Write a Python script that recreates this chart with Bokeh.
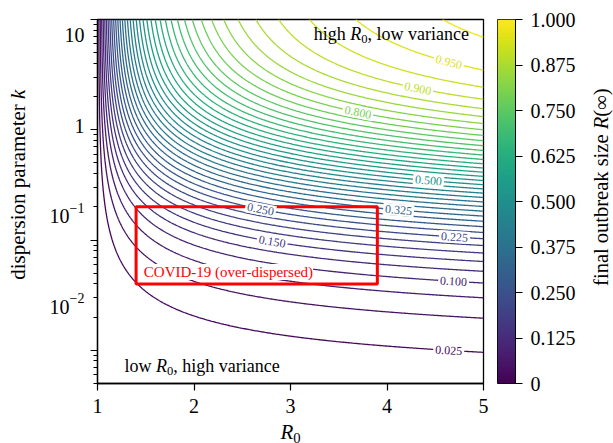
import numpy as np
from bokeh.plotting import figure
from bokeh.layouts import row, column
from bokeh.models import Range1d, FixedTicker, Label, LinearColorMapper, ColumnDataSource
from bokeh.palettes import Viridis256
from bokeh.core.properties import value
from bokeh.embed import file_html
from bokeh.resources import INLINE

# ---------------- data ----------------
R0_limits = [1.0, 5.0]
k_limits = [0.005, 10.0]
contour_levels = [0.025, 0.050, 0.075, 0.100, 0.125, 0.150, 0.175, 0.200, 0.225, 0.250,
                  0.275, 0.300, 0.325, 0.350, 0.375, 0.400, 0.425, 0.450, 0.475, 0.500,
                  0.525, 0.550, 0.575, 0.600, 0.625, 0.650, 0.675, 0.700, 0.725, 0.750,
                  0.775, 0.800, 0.825, 0.850, 0.875, 0.900, 0.925, 0.950, 0.975]
label_levels = [0.025, 0.100, 0.150, 0.225, 0.250, 0.325, 0.500, 0.800, 0.900, 0.950]
label_R0 = [4.64, 4.69, 2.81, 4.70, 2.69, 4.12, 4.43, 3.70, 4.32, 4.64]
covid_R0 = [1.4, 3.9]
covid_k = [0.04, 0.2]
x_ticks = [1, 2, 3, 4, 5]
y_ticks = [0.01, 0.1, 1, 10]
y_tick_base = ["10", "10", "1", "10"]
y_tick_exp = ["\u22122", "\u22121", "", ""]
cbar_ticks = [0, 0.125, 0.25, 0.375, 0.5, 0.625, 0.75, 0.875, 1.0]
cbar_tick_labels = ["0", "0.125", "0.250", "0.375", "0.500", "0.625", "0.750", "0.875", "1.000"]

# final outbreak size z solving 1 - z = (1 + R0 z / k)^(-k) (negative-binomial offspring)
R0_grid = np.linspace(R0_limits[0], R0_limits[1], 321)
k_grid = np.logspace(np.log10(k_limits[0]), np.log10(k_limits[1]), 331)
RR, KK = np.meshgrid(R0_grid, k_grid)
lo = np.full(RR.shape, 1e-12)
hi = np.ones(RR.shape)
for _ in range(60):
    mid = 0.5 * (lo + hi)
    pos = (-np.expm1(-KK * np.log1p(RR * mid / KK)) - mid) > 0
    lo = np.where(pos, mid, lo)
    hi = np.where(pos, hi, mid)
Z = 0.5 * (lo + hi)
Z[RR <= 1.0] = 0.0

FONT = "Liberation Serif"
line_colors = [Viridis256[int(round(L * 255))] for L in contour_levels]

# ---------------- helpers for rich text ----------------
TNR = {' ': 250, '(': 333, ')': 333, ',': 250, '-': 333, '.': 250, '\u221e': 713, '\u2212': 564,
       'a': 444, 'b': 500, 'c': 444, 'd': 500, 'e': 444, 'f': 333, 'g': 500, 'h': 500,
       'i': 278, 'k': 500, 'l': 278, 'm': 778, 'n': 500, 'o': 500, 'p': 500, 'r': 333,
       's': 389, 't': 278, 'u': 500, 'v': 500, 'w': 722, 'z': 444, 'R': 667,
       '0': 500, '1': 500, '2': 500}
TNR_IT = {'R': 611, 'k': 444}


def text_width(s, size, italic):
    tab = TNR_IT if italic else TNR
    return sum(tab.get(ch, TNR.get(ch, 500)) for ch in s) * size / 1000.0


def add_pieces(fig, x, y, pieces, angle=0.0, align="left"):
    """pieces: (text, size_px, italic, shift_px); anchor = vertical middle of main text."""
    total = sum(text_width(t, s, it) for t, s, it, dy in pieces)
    off = {"left": 0.0, "center": -total / 2.0, "right": -total}[align]
    for t, s, it, dy in pieces:
        if angle == 0:
            xo, yo = off, dy
        else:
            xo, yo = -dy, off
        fig.add_layout(Label(x=x, y=y, x_offset=xo, y_offset=yo, text=t, angle=angle,
                             text_font=FONT, text_font_size=f"{s:.1f}px",
                             text_font_style="italic" if it else "normal",
                             text_align="left", text_baseline="middle",
                             text_color="black"))
        off += text_width(t, s, it)


def blank_fig(width, height, x_range, y_range, y_type="linear", **borders):
    f = figure(width=width, height=height, x_range=x_range, y_range=y_range,
               x_axis_location=None, y_axis_location=None, y_axis_type=y_type,
               output_backend="svg", toolbar_location=None, min_border=0, **borders)
    f.outline_line_color = None
    f.xgrid.visible = False
    f.ygrid.visible = False
    f.background_fill_color = None
    f.border_fill_color = None
    return f


# ---------------- main figure ----------------
p = figure(width=404, height=421, x_range=Range1d(*R0_limits), y_range=Range1d(*k_limits),
           y_axis_type="log", output_backend="svg", toolbar_location=None,
           min_border_left=8, min_border_right=10, min_border_top=19, min_border_bottom=38)
p.xgrid.visible = False
p.ygrid.visible = False
p.outline_line_color = "black"
p.outline_line_width = 1.3
p.background_fill_color = "white"
p.border_fill_color = "white"

p.contour(R0_grid, k_grid, Z, levels=contour_levels, line_color=line_colors, line_width=1.3)

# contour labels placed on the computed contours
px_per_R0 = 386 / (R0_limits[1] - R0_limits[0])
px_per_dec = 364 / (np.log10(k_limits[1]) - np.log10(k_limits[0]))
logk = np.log10(k_grid)


def k_on_level(L, x0):
    j = int(np.argmin(np.abs(R0_grid - x0)))
    return np.interp(L, Z[:, j], logk)


lx, ly, la, lt, lc = [], [], [], [], []
for L, x0 in zip(label_levels, label_R0):
    y0 = k_on_level(L, x0)
    y1 = k_on_level(L, x0 - 0.15)
    y2 = k_on_level(L, x0 + 0.15)
    ang = np.arctan2((y2 - y1) * px_per_dec, 0.30 * px_per_R0)
    lx.append(x0)
    ly.append(10 ** y0)
    la.append(float(ang))
    lt.append(f"{L:.3f}")
    lc.append(Viridis256[int(round(L * 255))])
src = ColumnDataSource(dict(x=lx, y=ly, angle=la, text=lt, color=lc))

# COVID box
p.quad(left=[covid_R0[0]], right=[covid_R0[1]], bottom=[covid_k[0]], top=[covid_k[1]],
       fill_color=None, line_color="#ff0000", line_width=3)

p.text(x="x", y="y", text="text", angle="angle", text_color="color", source=src,
       text_font=value(FONT), text_font_size="12px", text_align="center",
       text_baseline="middle", background_fill_color="white", padding=2)

p.add_layout(Label(x=1.48, y=0.0514, text="COVID-19 (over-dispersed)", text_color="#ff0000",
                   text_font=FONT, text_font_size="15px", text_align="left",
                   text_baseline="middle", background_fill_color="white"))

add_pieces(p, 3.24, 7.33, [("high ", 18, False, 0), ("R", 18, True, 0), ("0", 12.6, False, -5),
                           (", low variance", 18, False, 0)])
add_pieces(p, 1.28, 0.00719, [("low ", 18, False, 0), ("R", 18, True, 0), ("0", 12.6, False, -5),
                              (", high variance", 18, False, 0)])

# axes (tick marks from bokeh; y tick texts drawn in the left strip)
p.xaxis.ticker = FixedTicker(ticks=x_ticks)
p.yaxis.ticker = FixedTicker(ticks=y_ticks,
                             minor_ticks=[m * 10.0 ** e for e in range(-3, 1) for m in range(2, 10)])
p.yaxis.major_label_overrides = {t: "" for t in y_ticks}
for ax in (p.xaxis[0], p.yaxis[0]):
    ax.major_label_text_font = FONT
    ax.major_label_text_font_size = "20px"
    ax.major_label_text_color = "black"
    ax.axis_line_color = "black"
    ax.axis_line_width = 1.3
    ax.major_tick_line_color = "black"
    ax.major_tick_line_width = 1.2
    ax.major_tick_in = 0
    ax.major_tick_out = 7
    ax.minor_tick_line_color = "black"
    ax.minor_tick_in = 0
    ax.minor_tick_out = 4
p.xaxis.minor_tick_line_color = None
p.xaxis.major_label_standoff = 8
p.yaxis.major_label_standoff = 0

# x-axis title strip (shares the R0 scale)
xlab = blank_fig(404, 22, p.x_range, Range1d(0, 22), min_border_left=8, min_border_right=10)
add_pieces(xlab, 3.0, 12, [("R", 21, True, 0), ("0", 14.7, False, -6)], align="center")

# left strip: y tick texts and y-axis title, on the same log scale as the plot
dec = px_per_dec
ylab_range = Range1d(10 ** (np.log10(k_limits[0]) - 60 / dec), 10 ** (np.log10(k_limits[1]) + 19 / dec))
ylab = blank_fig(89, 443, Range1d(0, 89), ylab_range, y_type="log")
for t, b, e in zip(y_ticks, y_tick_base, y_tick_exp):
    pcs = [(b, 20, False, 0)]
    if e:
        pcs.append((e, 14, False, 8.5))
    add_pieces(ylab, 84, t, pcs, align="right")
add_pieces(ylab, 17, float(np.sqrt(k_limits[0] * k_limits[1])),
           [("dispersion parameter ", 21, False, 0), ("k", 21, True, 0)],
           angle=np.pi / 2, align="center")

# ---------------- colour bar ----------------
cmap = LinearColorMapper(palette=Viridis256, low=0, high=1)
c = figure(width=92, height=443, x_range=Range1d(0, 1), y_range=Range1d(0, 1),
           y_axis_location="right", output_backend="svg", toolbar_location=None,
           min_border_left=4, min_border_right=70, min_border_top=19, min_border_bottom=60)
c.image(image=[np.linspace(0, 1, 256).reshape(256, 1)], x=0, y=0, dw=1, dh=1, color_mapper=cmap)
c.xaxis.visible = False
c.xgrid.visible = False
c.ygrid.visible = False
c.outline_line_color = "black"
c.outline_line_width = 1.0
c.border_fill_color = "white"
cy = c.yaxis[0]
cy.ticker = FixedTicker(ticks=cbar_ticks, minor_ticks=[])
cy.major_label_overrides = {t: s for t, s in zip(cbar_ticks, cbar_tick_labels)}
cy.major_label_text_font = FONT
cy.major_label_text_font_size = "20px"
cy.major_label_text_color = "black"
cy.axis_line_color = "black"
cy.major_tick_line_color = "black"
cy.major_tick_in = 0
cy.major_tick_out = 7
cy.minor_tick_line_color = None
cy.major_label_standoff = 8

ctitle = blank_fig(28, 443, Range1d(0, 28), Range1d(0, 443))
add_pieces(ctitle, 15, 242, [("final outbreak size ", 20.5, False, 0), ("R", 20.5, True, 0),
                             (" (\u221e)", 20.5, False, 0)], angle=np.pi / 2, align="center")

layout = row(ylab, column(p, xlab, spacing=0), c, ctitle, spacing=0)
open("out.html", "w").write(file_html(layout, INLINE))
